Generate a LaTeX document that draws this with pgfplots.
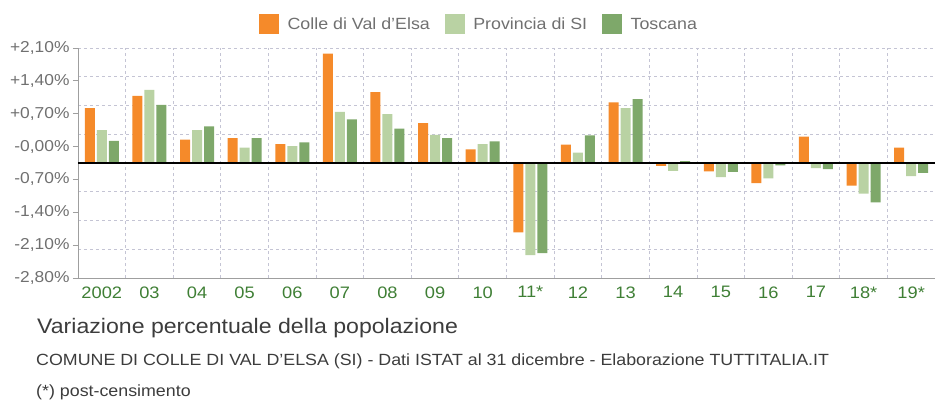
\documentclass[border=0pt]{standalone}
\usepackage{pgfplots}
\pgfplotsset{compat=1.18}
\usepackage{fontspec}
\setmainfont[FakeStretch=1.1]{Liberation Sans}
\definecolor{corange}{HTML}{F58A2A}
\definecolor{clight}{HTML}{B9D2A3}
\definecolor{cdark}{HTML}{7EA86A}
\definecolor{cxlab}{HTML}{3F7F35}
\definecolor{cylab}{HTML}{707070}
\definecolor{cgrid}{HTML}{C4C4D4}
\definecolor{ctext}{HTML}{3C3C3C}
\begin{document}
\begin{tikzpicture}
\path[use as bounding box] (0pt,0pt) rectangle (939pt,-401pt);
\begin{axis}[
  at={(78pt,-278pt)}, anchor=south west,
  scale only axis, width=857pt, height=230pt,
  xmin=-0.5, xmax=17.5, ymin=-2.45, ymax=2.45,
  axis x line*=bottom, axis y line*=left,
  axis line style={draw=gray!75, -, line width=0.8pt},
  xtick={0,...,17},
  xticklabels={2002,03,04,05,06,07,08,09,10,11*,12,13,14,15,16,17,18*,19*},
  xticklabel style={font=\fontsize{16.6}{19}\selectfont, text=cxlab},
  xtick style={draw=none},
  minor xtick={0.5,1.5,...,16.5},
  ytick={2.45,1.75,1.05,0.35,-0.35,-1.05,-1.75,-2.45},
  yticklabels={+2{,}10\%,+1{,}40\%,+0{,}70\%,-0{,}00\%,-0{,}70\%,-1{,}40\%,-2{,}10\%,-2{,}80\%},
  yticklabel style={font=\fontsize{15.8}{18}\selectfont, text=cylab},
  ytick style={draw=gray!75, line width=0.8pt},
  tick align=outside, major tick length=5pt, minor tick length=0pt,
  minor ytick={-1.8375,-1.225,-0.6125,0,0.6125,1.225,1.8375,2.45},
  xminorgrids=true, yminorgrids=true,
  minor grid style={draw=cgrid, dashed, line width=0.8pt},
  legend columns=3,
  legend style={at={(0.468,1.104)}, anchor=center, draw=none, fill=none,
    font=\fontsize{16.2}{18}\selectfont, text=cylab,
    /tikz/every odd column/.append style={column sep=7pt},
    /tikz/every even column/.append style={column sep=13pt}},
]
\addlegendimage{legend image code/.code={\fill[corange] (0pt,-9pt) rectangle (19pt,10pt);}}
\addlegendentry{Colle di Val d'Elsa}
\addlegendimage{legend image code/.code={\fill[clight] (0pt,-9pt) rectangle (19pt,10pt);}}
\addlegendentry{Provincia di SI}
\addlegendimage{legend image code/.code={\fill[cdark] (0pt,-9pt) rectangle (19pt,10pt);}}
\addlegendentry{Toscana}
\addplot[ybar, bar width=0.21, bar shift=-0.252, fill=corange, draw=none, forget plot] coordinates {
(0,1.17) (1,1.43) (2,0.50) (3,0.53) (4,0.40) (5,2.33) (6,1.51) (7,0.85) (8,0.29)
(9,-1.48) (10,0.39) (11,1.29) (12,-0.06) (13,-0.18) (14,-0.43) (15,0.56) (16,-0.48) (17,0.33)};
\addplot[ybar, bar width=0.21, bar shift=0, fill=clight, draw=none, forget plot] coordinates {
(0,0.70) (1,1.56) (2,0.70) (3,0.33) (4,0.36) (5,1.09) (6,1.04) (7,0.60) (8,0.40)
(9,-1.96) (10,0.22) (11,1.17) (12,-0.17) (13,-0.30) (14,-0.33) (15,-0.11) (16,-0.65) (17,-0.28)};
\addplot[ybar, bar width=0.21, bar shift=0.252, fill=cdark, draw=none, forget plot] coordinates {
(0,0.47) (1,1.24) (2,0.78) (3,0.53) (4,0.44) (5,0.93) (6,0.73) (7,0.53) (8,0.46)
(9,-1.92) (10,0.59) (11,1.36) (12,0.04) (13,-0.19) (14,-0.05) (15,-0.13) (16,-0.84) (17,-0.21)};
\draw[black, line width=1.3pt] (axis cs:-0.5,0) -- (axis cs:17.5,0);
\end{axis}
\node[anchor=base west, inner sep=0pt, text=ctext, font=\fontsize{21}{24}\selectfont] at (37pt,-333pt) {Variazione percentuale della popolazione};
\node[anchor=base west, inner sep=0pt, text=ctext, font=\fontsize{16.2}{18}\selectfont] at (36pt,-365pt) {COMUNE DI COLLE DI VAL D'ELSA (SI) - Dati ISTAT al 31 dicembre - Elaborazione TUTTITALIA.IT};
\node[anchor=base west, inner sep=0pt, text=ctext, font=\fontsize{16.2}{18}\selectfont] at (36pt,-396pt) {(*) post-censimento};
\end{tikzpicture}
\end{document}
